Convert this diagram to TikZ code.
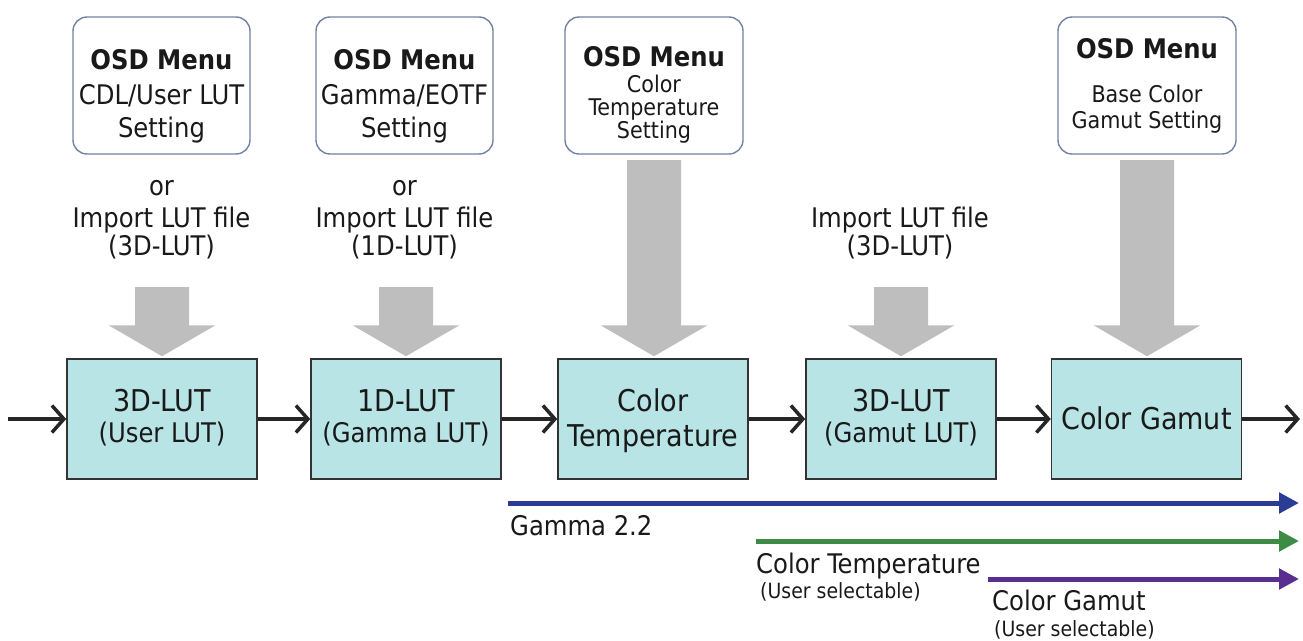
\documentclass[tikz,border=0pt]{standalone}
\usepackage{fontspec}
\setmainfont{DejaVu Sans Condensed}
\usetikzlibrary{arrows.meta,calc}
\definecolor{lutfill}{HTML}{B8E4E6}
\definecolor{lutdraw}{HTML}{333333}
\definecolor{osddraw}{HTML}{7282A2}
\definecolor{grayarr}{HTML}{BEBEBE}
\definecolor{lineblue}{HTML}{2A3C94}
\definecolor{linegreen}{HTML}{3C8C46}
\definecolor{linepurple}{HTML}{5A2D91}
\tikzset{
  osdbox/.style={draw=osddraw, line width=1.4pt, rounded corners=14pt, fill=white,
    minimum width=177pt, minimum height=137pt, inner sep=0pt},
  lutbox/.style={draw=lutdraw, line width=1.5pt, fill=lutfill,
    minimum width=190pt, minimum height=120pt, inner sep=0pt},
  txt/.style={anchor=base, inner sep=0pt, text=black!90},
  big/.style={font=\fontsize{27}{27}\selectfont},
  bigb/.style={font=\fontsize{27}{27}\selectfont\bfseries},
  mid/.style={font=\fontsize{23}{23}\selectfont},
  lut/.style={font=\fontsize{30}{30}\selectfont},
  lutsub/.style={font=\fontsize{27}{27}\selectfont},
  small/.style={font=\fontsize{21}{21}\selectfont},
  flow/.style={line width=4pt, black!85, -{Straight Barb[length=12pt,width=27pt,line width=3.5pt]}},
  gamline/.style={line width=5pt, -{Triangle[length=20pt,width=20pt]}},
}
\newcommand\grayarrowat[2]{%
  \fill[grayarr] ($(#1)+(-27,0)$) -- ($(#1)+(27,0)$) |- ($(#2)+(27,-31)$) -- ($(#2)+(53.5,-31)$)
    -- ($(#2)+(0,0)$) -- ($(#2)+(-53.5,-31)$) -- ($(#2)+(-27,-31)$) -- cycle;}
\begin{document}
\begin{tikzpicture}[x=1pt,y=-1pt]
\useasboundingbox (0,0) rectangle (1303,640);

% OSD boxes
\node[osdbox] (o1) at (161.5,85.5) {};
\node[osdbox] (o2) at (404.5,85.5) {};
\node[osdbox, minimum width=178pt] (o3) at (654,85.5) {};
\node[osdbox, minimum width=178pt] (o4) at (1147,85.5) {};

\node[txt,bigb] (o1a) at (161.5,69) {OSD Menu};
\node[txt,big]  (o1b) at (161.5,104) {CDL/User LUT};
\node[txt,big]  (o1c) at (161.5,137) {Setting};
\node[txt,bigb] (o2a) at (404.5,69) {OSD Menu};
\node[txt,big]  (o2b) at (404.5,104) {Gamma/EOTF};
\node[txt,big]  (o2c) at (404.5,137) {Setting};
\node[txt,bigb] (o3a) at (654,66) {OSD Menu};
\node[txt,mid]  (o3b) at (654,92) {Color};
\node[txt,mid]  (o3c) at (654,115) {Temperature};
\node[txt,mid]  (o3d) at (654,138) {Setting};
\node[txt,bigb] (o4a) at (1147,58) {OSD Menu};
\node[txt,mid]  (o4b) at (1147,102) {Base Color};
\node[txt,mid]  (o4c) at (1147,128) {Gamut Setting};

% import labels
\node[txt,big] (i1a) at (161.5,195) {or};
\node[txt,big] (i1b) at (161.5,227) {Import LUT file};
\node[txt,big] (i1c) at (161.5,255) {(3D-LUT)};
\node[txt,big] (i2a) at (404.5,195) {or};
\node[txt,big] (i2b) at (404.5,227) {Import LUT file};
\node[txt,big] (i2c) at (404.5,255) {(1D-LUT)};
\node[txt,big] (i4b) at (900,227) {Import LUT file};
\node[txt,big] (i4c) at (900,255) {(3D-LUT)};

% LUT boxes
\node[lutbox] (A) at (162,419) {};
\node[lutbox] (B) at (406,419) {};
\node[lutbox] (C) at (653,419) {};
\node[lutbox] (D) at (901,419) {};
\node[lutbox] (E) at (1146.5,419) {};

\node[txt,lut]    (Aa) at (162,411) {3D-LUT};
\node[txt,lutsub] (Ab) at (162,442) {(User LUT)};
\node[txt,lut]    (Ba) at (406,411) {1D-LUT};
\node[txt,lutsub] (Bb) at (406,442) {(Gamma LUT)};
\node[txt,lut]    (Ca) at (653,411) {Color};
\node[txt,lut]    (Cb) at (653,446) {Temperature};
\node[txt,lut]    (Da) at (901,411) {3D-LUT};
\node[txt,lutsub] (Db) at (901,442) {(Gamut LUT)};
\node[txt,lut]    (Ea) at (1146.5,429) {Color Gamut};

% gray arrows
\coordinate (g1s) at (162,287);  \coordinate (g1t) at ($(A.north)+(0,-2)$);
\coordinate (g2s) at (406,287);  \coordinate (g2t) at ($(B.north)+(0,-2)$);
\coordinate (g3s) at (654,160);  \coordinate (g3t) at ($(C.north)+(1,-2)$);
\coordinate (g4s) at (901,287);  \coordinate (g4t) at ($(D.north)+(0,-2)$);
\coordinate (g5s) at (1147,160); \coordinate (g5t) at ($(E.north)+(0.5,-2)$);
\grayarrowat{g1s}{g1t}
\grayarrowat{g2s}{g2t}
\grayarrowat{g3s}{g3t}
\grayarrowat{g4s}{g4t}
\grayarrowat{g5s}{g5t}

% flow arrows
\coordinate (in) at (8,419);
\coordinate (out) at (1300,419);
\draw[flow] (in) -- (A.west);
\draw[flow] (A.east) -- (B.west);
\draw[flow] (B.east) -- (C.west);
\draw[flow] (C.east) -- (D.west);
\draw[flow] (D.east) -- (E.west);
\draw[flow] (E.east) -- (out);

% bottom range arrows
\coordinate (bs) at (508,503);  \coordinate (be) at (1299,503);
\coordinate (gs) at (756,541);  \coordinate (ge) at (1299,541);
\coordinate (ps) at (988,579);  \coordinate (pe) at (1299,579);
\draw[gamline, lineblue] (bs) -- (be);
\draw[gamline, linegreen] (gs) -- (ge);
\draw[gamline, linepurple] (ps) -- (pe);

\node[txt,big,anchor=base west] (l1) at (510,535) {Gamma 2.2};
\node[txt,big,anchor=base west] (l2) at (756,573) {Color Temperature};
\node[txt,small,anchor=base west] (l3) at (760,598) {(User selectable)};
\node[txt,big,anchor=base west] (l4) at (992,610) {Color Gamut};
\node[txt,small,anchor=base west] (l5) at (994,636) {(User selectable)};
\end{tikzpicture}
\end{document}
